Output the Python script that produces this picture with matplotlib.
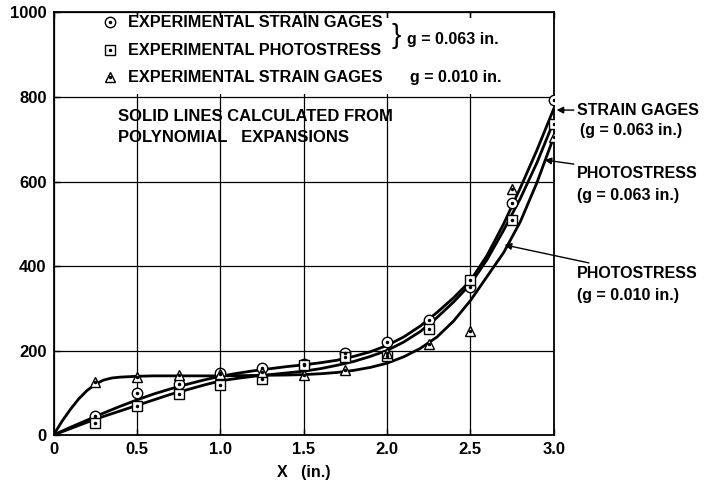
import matplotlib
matplotlib.use('Agg')
import matplotlib.pyplot as plt
from matplotlib.patches import Rectangle

plt.rcParams['font.family'] = ['Liberation Sans', 'DejaVu Sans']
plt.rcParams['font.weight'] = 'bold'

# measured points, x in inches
x_pts = [0.25, 0.5, 0.75, 1.0, 1.25, 1.5, 1.75, 2.0, 2.25, 2.5, 2.75, 3.0]
sg_063 = [45, 99, 121, 147, 158, 168, 194, 220, 272, 350, 550, 793]
ps_063 = [28, 69, 97, 118, 132, 165, 185, 187, 251, 367, 509, 736]
sg_010 = [125, 138, 142, 144, 148, 142, 154, 194, 215, 247, 582, 705]

# solid lines (polynomial expansions)
x_curve = [0.0, 0.1, 0.2, 0.3, 0.4, 0.5, 0.6, 0.7, 0.8, 0.9, 1.0,
           1.1, 1.2, 1.3, 1.4, 1.5, 1.6, 1.7, 1.8, 1.9, 2.0,
           2.1, 2.2, 2.3, 2.4, 2.5, 2.6, 2.7, 2.8, 2.9, 3.0]
curve_sg_063 = [0, 18, 35, 52, 68, 83, 97, 109, 120, 130, 139,
                146, 152, 157, 162, 166, 171, 177, 186, 197, 212,
                232, 258, 290, 325, 365, 425, 500, 585, 675, 772]
curve_ps_063 = [0, 15, 30, 44, 57, 70, 83, 96, 107, 118, 128,
                134, 139, 143, 147, 151, 157, 165, 174, 186, 200,
                220, 245, 278, 315, 357, 415, 485, 560, 645, 742]
x_curve_lo = [0.0, 0.05, 0.1, 0.15, 0.2, 0.25, 0.3, 0.35, 0.4, 0.5, 0.6,
              0.8, 1.0, 1.2, 1.4, 1.5, 1.6, 1.7, 1.8, 1.9, 2.0,
              2.1, 2.2, 2.3, 2.4, 2.5, 2.6, 2.7, 2.8, 2.9, 3.0]
curve_ps_010 = [0, 32, 60, 85, 105, 120, 130, 135, 137, 139, 140,
                140, 140, 141, 142, 143, 145, 148, 153, 160, 170,
                185, 205, 232, 270, 318, 375, 432, 505, 598, 705]

fig = plt.figure(figsize=(7.06, 4.86), dpi=100)
ax = fig.add_axes([0.0758, 0.1049, 0.7085, 0.8694])

ax.set_axisbelow(True)
ax.grid(color='black', lw=0.9)
# legend area hides the grid
ax.add_patch(Rectangle((0.03, 808), 2.87, 180, facecolor='white', edgecolor='none', zorder=1))

for xs, ys in [(x_curve, curve_sg_063), (x_curve, curve_ps_063), (x_curve_lo, curve_ps_010)]:
    ax.plot(xs, ys, color='black', lw=2.0, zorder=2)

for ys, m in [(sg_063, 'o'), (ps_063, 's'), (sg_010, '^')]:
    ax.plot(x_pts, ys, ls='none', marker=m, ms=7.5, mfc='white', mec='black', mew=1.0, zorder=3)
    ax.plot(x_pts, ys, ls='none', marker='o', ms=1.5, color='black', zorder=4)

# legend
leg_rows = [(977, 'o', 'EXPERIMENTAL STRAIN GAGES'),
            (911, 's', 'EXPERIMENTAL PHOTOSTRESS'),
            (847, '^', 'EXPERIMENTAL STRAIN GAGES')]
for y, m, label in leg_rows:
    ax.plot([0.336], [y], marker=m, ms=7.5, mfc='white', mec='black', mew=1.0, zorder=3)
    ax.plot([0.336], [y], marker='o', ms=1.5, color='black', zorder=4)
    ax.text(0.444, y, label, fontsize=11.7, fontweight='bold', va='center', ha='left', zorder=3)
ax.text(2.025, 944, '}', fontsize=20, fontweight='normal', va='center', ha='left', zorder=3)
ax.text(2.118, 935, 'g = 0.063 in.', fontsize=11.5, fontweight='bold', va='center', ha='left', zorder=3)
ax.text(2.136, 847, 'g = 0.010 in.', fontsize=11.5, fontweight='bold', va='center', ha='left', zorder=3)

ax.text(0.384, 755, 'SOLID LINES CALCULATED FROM', fontsize=12, fontweight='bold', va='center', ha='left')
ax.text(0.384, 705, 'POLYNOMIAL   EXPANSIONS', fontsize=12, fontweight='bold', va='center', ha='left')

# curve labels on the right
arrow = dict(arrowstyle='-|>', color='black', lw=1.0, mutation_scale=10, shrinkA=0, shrinkB=0)
ax.annotate('STRAIN GAGES', xy=(3.017, 769), xytext=(3.137, 769), fontsize=11.5, fontweight='bold',
            va='center', ha='left', arrowprops=arrow, annotation_clip=False)
ax.text(3.155, 720, '(g = 0.063 in.)', fontsize=11.5, fontweight='bold', va='center', ha='left', clip_on=False)
ax.annotate('PHOTOSTRESS', xy=(2.945, 651), xytext=(3.137, 620), fontsize=11.5, fontweight='bold',
            va='center', ha='left', arrowprops=arrow, annotation_clip=False)
ax.text(3.137, 568, '(g = 0.063 in.)', fontsize=11.5, fontweight='bold', va='center', ha='left', clip_on=False)
ax.annotate('PHOTOSTRESS', xy=(2.705, 450), xytext=(3.137, 383), fontsize=11.5, fontweight='bold',
            va='center', ha='left', arrowprops=arrow, annotation_clip=False)
ax.text(3.137, 331, '(g = 0.010 in.)', fontsize=11.5, fontweight='bold', va='center', ha='left', clip_on=False)

ax.set_xlim(0, 3.0)
ax.set_ylim(0, 1000)
ax.set_xticks([0, 0.5, 1.0, 1.5, 2.0, 2.5, 3.0])
ax.set_xticklabels(['0', '0.5', '1.0', '1.5', '2.0', '2.5', '3.0'])
ax.set_yticks([0, 200, 400, 600, 800, 1000])
ax.tick_params(direction='in', length=4, width=1, top=True, right=False, labelsize=12, pad=5)
for lab in ax.get_xticklabels() + ax.get_yticklabels():
    lab.set_fontweight('bold')
for s in ax.spines.values():
    s.set_linewidth(1.3)
ax.set_xlabel('X   (in.)', fontsize=11.5, fontweight='bold', labelpad=6)

fig.savefig('out.png', dpi=100)
